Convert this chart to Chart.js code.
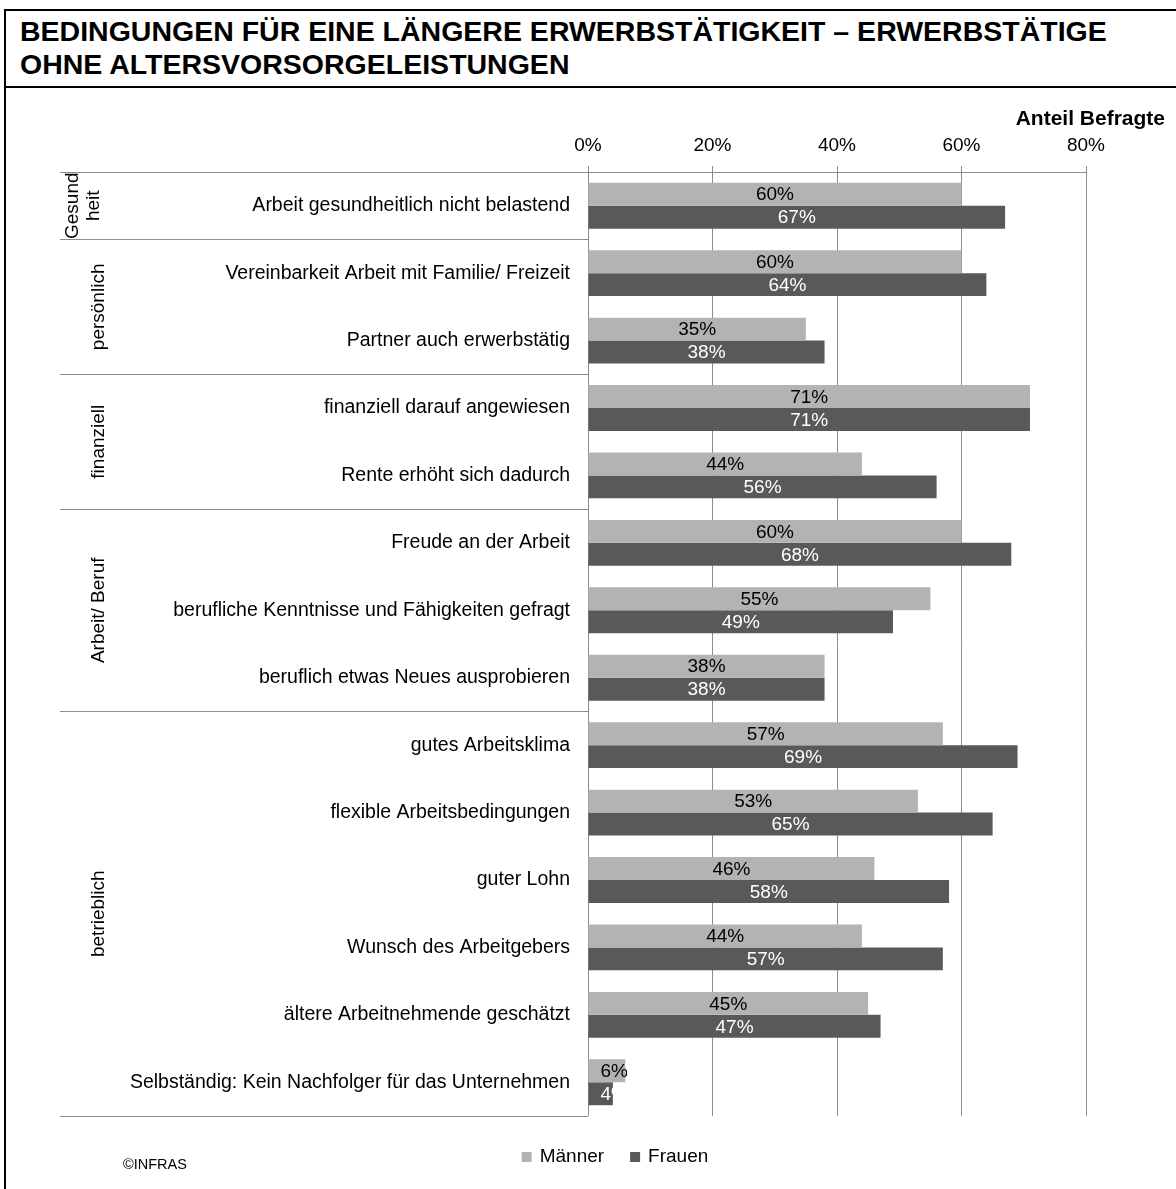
<!DOCTYPE html>
<html lang="de">
<head>
<meta charset="utf-8">
<title>Bedingungen für eine längere Erwerbstätigkeit</title>
<script src="https://cdn.jsdelivr.net/npm/chart.js"></script>
<style>
  html, body { margin: 0; padding: 0; background: #fff; overflow: hidden; }
  body { width: 1176px; height: 1189px; position: relative; font-family: "Liberation Sans", Arial, sans-serif; }
  .rahmen { position: absolute; left: 4px; top: 9px; width: 1300px; height: 1300px; border-left: 2px solid #000; border-top: 2px solid #000; }
  .titel { position: absolute; left: 6px; top: 11px; width: 1300px; height: 75px; border-bottom: 2px solid #000; }
  .titel h1 { margin: 0; padding: 4px 0 0 14px; font-size: 28.5px; line-height: 33px; font-weight: bold; color: #000; white-space: nowrap; }
  #wrap { position: absolute; left: 6px; top: 89px; width: 1170px; height: 1100px; }
</style>
</head>
<body>
<div class="rahmen"></div>
<div class="titel">
  <h1>BEDINGUNGEN FÜR EINE LÄNGERE ERWERBSTÄTIGKEIT – ERWERBSTÄTIGE<br>OHNE ALTERSVORSORGELEISTUNGEN</h1>
</div>
<div id="wrap"><canvas id="chart"></canvas></div>
<script>
const kategorien = [
    'Arbeit gesundheitlich nicht belastend',
    'Vereinbarkeit Arbeit mit Familie/ Freizeit',
    'Partner auch erwerbstätig',
    'finanziell darauf angewiesen',
    'Rente erhöht sich dadurch',
    'Freude an der Arbeit',
    'berufliche Kenntnisse und Fähigkeiten gefragt',
    'beruflich etwas Neues ausprobieren',
    'gutes Arbeitsklima',
    'flexible Arbeitsbedingungen',
    'guter Lohn',
    'Wunsch des Arbeitgebers',
    'ältere Arbeitnehmende geschätzt',
    'Selbständig: Kein Nachfolger für das Unternehmen'
];
const maenner = [60, 60, 35, 71, 44, 60, 55, 38, 57, 53, 46, 44, 45, 6];
const frauen = [67, 64, 38, 71, 56, 68, 49, 38, 69, 65, 58, 57, 47, 4];
const xTicks = [0, 20, 40, 60, 80];
const gruppenNamen = [['Gesund', 'heit'], ['persönlich'], ['finanziell'], ['Arbeit/ Beruf'], ['betrieblich']];
const gruppenGroesse = [1, 2, 2, 3, 6];

const SCHRIFT = "'Liberation Sans', Arial, sans-serif";
const GRAU_HELL = '#b3b3b3';
const GRAU_DUNKEL = '#595959';
const LINIE = '#8c8c8c';

Chart.defaults.font.family = SCHRIFT;
Chart.defaults.color = '#000';

// Gruppenbeschriftungen links und Trennlinien
const gruppenPlugin = {
    id: 'gruppen',
    afterDraw(chart) {
        const { ctx, chartArea, scales: { y } } = chart;
        const links = 54;
        ctx.save();
        ctx.strokeStyle = LINIE;
        ctx.lineWidth = 1;

        const grenzen = [chartArea.top];
        let idx = 0;
        gruppenGroesse.forEach(n => {
            idx += n;
            if (idx < kategorien.length) {
                grenzen.push((y.getPixelForValue(idx - 1) + y.getPixelForValue(idx)) / 2);
            } else {
                grenzen.push(chartArea.bottom);
            }
        });
        grenzen.forEach(py => {
            const yy = Math.round(py) + 0.5;
            ctx.beginPath();
            ctx.moveTo(links, yy);
            ctx.lineTo(chartArea.left, yy);
            ctx.stroke();
        });

        ctx.fillStyle = '#000';
        ctx.font = '19px ' + SCHRIFT;
        ctx.textAlign = 'center';
        ctx.textBaseline = 'middle';
        gruppenNamen.forEach((zeilen, i) => {
            const mitte = (grenzen[i] + grenzen[i + 1]) / 2;
            const xs = zeilen.length === 1 ? [93] : [67, 88];
            zeilen.forEach((t, j) => {
                ctx.save();
                ctx.translate(xs[j], mitte);
                ctx.rotate(-Math.PI / 2);
                ctx.fillText(t, 0, 0);
                ctx.restore();
            });
        });

        // Achsentitel
        ctx.font = 'bold 21px ' + SCHRIFT;
        ctx.textAlign = 'right';
        ctx.textBaseline = 'alphabetic';
        ctx.fillText('Anteil Befragte', 1159, 36);

        // Legende
        ctx.font = '19px ' + SCHRIFT;
        const eintraege = [['Männer', GRAU_HELL], ['Frauen', GRAU_DUNKEL]];
        const box = 10, abstand = 8, luecke = 26;
        let breite = 0;
        eintraege.forEach(([t], i) => {
            breite += box + abstand + ctx.measureText(t).width + (i ? 0 : luecke);
        });
        let lx = 609 - breite / 2;
        const ly = 1068;
        ctx.textAlign = 'left';
        ctx.textBaseline = 'middle';
        eintraege.forEach(([t, farbe]) => {
            ctx.fillStyle = farbe;
            ctx.fillRect(lx, ly - box / 2, box, box);
            lx += box + abstand;
            ctx.fillStyle = '#000';
            ctx.fillText(t, lx, ly);
            lx += ctx.measureText(t).width + luecke;
        });

        // Quelle
        ctx.font = '14.5px ' + SCHRIFT;
        ctx.textBaseline = 'alphabetic';
        ctx.fillText('©INFRAS', 117, 1080);
        ctx.restore();
    }
};

// Werte in den Balken
const wertePlugin = {
    id: 'werte',
    afterDatasetsDraw(chart) {
        const { ctx } = chart;
        ctx.save();
        ctx.font = '19px ' + SCHRIFT;
        ctx.textAlign = 'center';
        ctx.textBaseline = 'middle';
        chart.data.datasets.forEach((ds, di) => {
            const meta = chart.getDatasetMeta(di);
            meta.data.forEach((bar, i) => {
                const text = ds.data[i] + '%';
                const w = ctx.measureText(text).width;
                const start = bar.base;
                const ende = bar.x;
                const tx = Math.max((start + ende) / 2, start + 12 + w / 2);
                ctx.save();
                ctx.beginPath();
                ctx.rect(start, bar.y - bar.height / 2, ende - start + 2, bar.height);
                ctx.clip();
                ctx.fillStyle = di === 0 ? '#000' : '#fff';
                ctx.fillText(text, tx, bar.y + 1);
                ctx.restore();
            });
        });
        ctx.restore();
    }
};

document.addEventListener('DOMContentLoaded', function () {
    const ctx = document.getElementById('chart');
    new Chart(ctx, {
        type: 'bar',
        data: {
            labels: kategorien,
            datasets: [{
                label: 'Männer',
                data: maenner,
                backgroundColor: GRAU_HELL,
                categoryPercentage: 0.68,
                barPercentage: 1.0
            }, {
                label: 'Frauen',
                data: frauen,
                backgroundColor: GRAU_DUNKEL,
                categoryPercentage: 0.68,
                barPercentage: 1.0
            }]
        },
        options: {
            indexAxis: 'y',
            responsive: true,
            maintainAspectRatio: false,
            animation: false,
            layout: {
                padding: { top: 0, left: 0, right: 90, bottom: 73 }
            },
            plugins: {
                legend: { display: false },
                tooltip: { enabled: false }
            },
            scales: {
                x: {
                    position: 'top',
                    min: 0,
                    max: 80,
                    afterBuildTicks: s => { s.ticks = xTicks.map(v => ({ value: v })); },
                    afterFit: s => { s.height = 83; },
                    ticks: {
                        callback: v => v + '%',
                        font: { size: 19 },
                        color: '#000',
                        padding: 9,
                        maxRotation: 0
                    },
                    grid: {
                        color: LINIE,
                        lineWidth: 1,
                        tickLength: 6
                    },
                    border: { color: LINIE }
                },
                y: {
                    afterFit: s => { s.width = 582; },
                    grid: { display: false, drawTicks: false },
                    border: { display: false },
                    ticks: {
                        font: { size: 19.5 },
                        color: '#000',
                        padding: 18,
                        autoSkip: false
                    }
                }
            }
        },
        plugins: [gruppenPlugin, wertePlugin]
    });
});
</script>
</body>
</html>
